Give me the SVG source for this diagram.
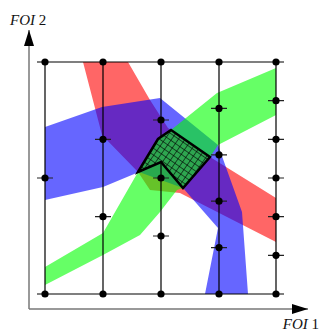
<svg xmlns="http://www.w3.org/2000/svg" width="321" height="331" viewBox="0 0 321 331">
<style>
.band{opacity:0.6}
.grid{stroke:#000;stroke-width:1.2;fill:none}
.tick{stroke:#222;stroke-width:1.2}
.dot{fill:#000}
.axis{stroke:#777;stroke-width:1.5;fill:none}
.lbl{font-family:"Liberation Serif",serif;font-size:15px;fill:#111}
</style>
<defs>
<pattern id="hatch" patternUnits="userSpaceOnUse" width="5.5" height="5.5" patternTransform="rotate(35)">
<path d="M0,0.3H5.5M0.3,0V5.5" stroke="#000" stroke-width="0.7"/>
</pattern>
<marker id="ah" viewBox="0 0 16 10" refX="16" refY="5" markerWidth="16" markerHeight="10" markerUnits="userSpaceOnUse" orient="auto">
<path d="M0,0L16,5L0,10Z" fill="#000"/>
</marker>
</defs>
<g id="bands">
<path id="red-band" class="band" fill="#ff0000" d="M83,62 L128,62 L150,100 L168,128 L210,157 L276,198 L276,242 L180,193 L150,190 L138,172 L102,135 Z"/>
<path id="blue-band" class="band" fill="#0000ff" d="M45,127 L102,107 L160,98 L218,145 L242,212 L248,294 L205,294 L218,228 L183,188 L139,172 L103,187 L45,200 Z"/>
<path id="green-band" class="band" fill="#00ff00" d="M45,267 L103,233 L138,172 L158,139 L171,130 L217,93 L276,68 L276,115 L218,145 L210,157 L183,188 L177,190 L160,212 L140,235 L103,255 L45,285 Z"/>
</g>
<g id="axes">
<path class="axis" d="M29,309 V30" marker-end="url(#ah)"/>
<path class="axis" d="M29,309 H308" marker-end="url(#ah)"/>
</g>
<g id="grid">
<path class="grid" d="M37,62H284M37,294H284M45,62V294M103,62V294M161,62V294M219,62V294M276,62V294"/>
</g>
<g id="region">
<polygon points="138,172 158,139 171,130 210,157 183,188 161,162" fill="#2ea650"/>
<polygon points="138,172 158,139 171,130 210,157 183,188 161,162" fill="url(#hatch)" stroke="#000" stroke-width="2.5" stroke-linejoin="miter"/>
</g>
<g id="ticks" class="tick">
<path d="M37,178H53 M95,139.3H111 M95,216.7H111 M153,120H169 M153,178H169 M153,236H169 M211,108.4H227 M211,154.8H227 M211,201.2H227 M211,247.6H227 M268,100.7H284 M268,139.3H284 M268,178H284 M268,216.7H284 M268,255.3H284"/>
</g>
<g id="dots" class="dot">
<circle cx="45" cy="62" r="3.6"/><circle cx="103" cy="62" r="3.6"/><circle cx="161" cy="62" r="3.6"/><circle cx="219" cy="62" r="3.6"/><circle cx="276" cy="62" r="3.6"/>
<circle cx="45" cy="294" r="3.6"/><circle cx="103" cy="294" r="3.6"/><circle cx="161" cy="294" r="3.6"/><circle cx="219" cy="294" r="3.6"/><circle cx="276" cy="294" r="3.6"/>
<circle cx="45" cy="178" r="3.6"/>
<circle cx="103" cy="139.3" r="3.6"/><circle cx="103" cy="216.7" r="3.6"/>
<circle cx="161" cy="120" r="3.6"/><circle cx="161" cy="178" r="3.6"/><circle cx="161" cy="236" r="3.6"/>
<circle cx="219" cy="108.4" r="3.6"/><circle cx="219" cy="154.8" r="3.6"/><circle cx="219" cy="201.2" r="3.6"/><circle cx="219" cy="247.6" r="3.6"/>
<circle cx="276" cy="100.7" r="3.6"/><circle cx="276" cy="139.3" r="3.6"/><circle cx="276" cy="178" r="3.6"/><circle cx="276" cy="216.7" r="3.6"/><circle cx="276" cy="255.3" r="3.6"/>
</g>
<g id="labels">
<text class="lbl" x="10" y="25"><tspan font-style="italic">FOI</tspan> 2</text>
<text class="lbl" x="319" y="329" text-anchor="end"><tspan font-style="italic">FOI</tspan> 1</text>
</g>
</svg>
